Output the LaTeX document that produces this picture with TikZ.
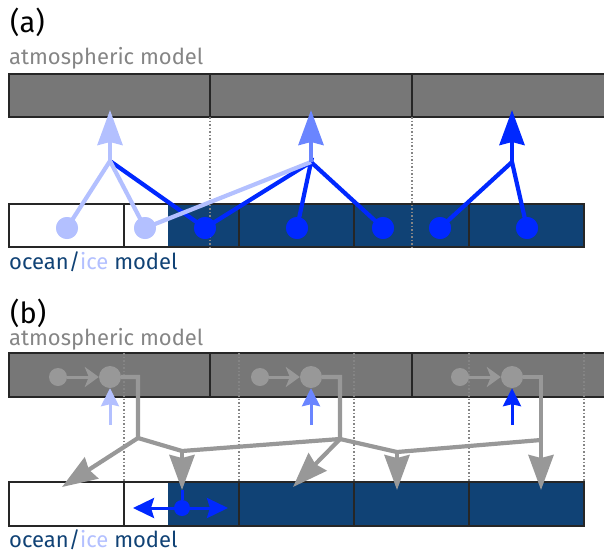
\documentclass[tikz,border=0pt]{standalone}
\usepackage{fontspec}
\setmainfont{Fira Sans}
\usetikzlibrary{arrows.meta}
\definecolor{atmgray}{HTML}{777777}
\definecolor{labelgray}{HTML}{858585}
\definecolor{fluxgray}{HTML}{989898}
\definecolor{oceanblue}{HTML}{104275}
\definecolor{iceblue}{HTML}{B3C0FF}
\definecolor{mixblue}{HTML}{6A85FF}
\definecolor{pureblue}{HTML}{0028FF}

\begin{document}
\begin{tikzpicture}[x=1pt, y=-1pt,
    cellbox/.style={draw=black!85, line width=1.2pt},
    gridline/.style={draw=labelgray, line width=1.5pt, dash pattern=on 1.5pt off 2pt},
    flux/.style={line width=4.2pt},
    fluxdot/.style={circle, inner sep=0pt, minimum size=22pt},
    bigtip/.style={-{Stealth[length=35pt, width=25pt, inset=3pt]}},
    uptip/.style={-{Stealth[length=18pt, width=18pt, inset=2pt]}},
    lbl/.style={anchor=base west, inner sep=0pt, font=\fontsize{22}{26}\selectfont}]
    \useasboundingbox (0,0) rectangle (604,554);

    % (a)
    \node[lbl, font=\fontsize{29}{34}\selectfont] (labA) at (10,32) {(a)};
    \node[lbl, text=labelgray] (atmA) at (9,64) {atmospheric model};
    \node[lbl, text=oceanblue] (ocnA) at (9,269) {ocean/\textcolor{iceblue}{ice} model};

    \fill[atmgray] (9,74) rectangle (610,117);
    \draw[cellbox] (9,74) rectangle (210,117) (210,74) rectangle (412,117) (412,74) rectangle (610,117);
    \fill[oceanblue] (168,204) rectangle (584,247);
    \draw[cellbox] (9,204) rectangle (124,247) (124,204) rectangle (239,247) (239,204) rectangle (354,247)
        (354,204) rectangle (469,247) (469,204) rectangle (584,247);
    \draw[gridline] (210,117) -- (210,247) (412,117) -- (412,247);

    \coordinate (j1) at (110,161);
    \coordinate (j2) at (311,162);
    \coordinate (j3) at (512,162);
    \coordinate (a1) at (110,110);
    \coordinate (a2) at (311,110);
    \coordinate (a3) at (512,110);
    \node[fluxdot, fill=iceblue] (o1) at (67,228) {};
    \node[fluxdot, fill=iceblue] (o2) at (145,228) {};
    \node[fluxdot, fill=pureblue] (o3) at (205,228) {};
    \node[fluxdot, fill=pureblue] (o4) at (297,228) {};
    \node[fluxdot, fill=pureblue] (o5) at (383,228) {};
    \node[fluxdot, fill=pureblue] (o6) at (440,228) {};
    \node[fluxdot, fill=pureblue] (o7) at (527,228) {};

    \draw[flux, pureblue] (o3.center) -- (j1) (o3.center) -- (j2) -- (o4.center) (j2) -- (o5.center)
        (o6.center) -- (j3) -- (o7.center);
    \draw[flux, iceblue] (o1.center) -- (j1) -- (o2.center) -- (j2);
    \draw[flux, iceblue, bigtip] (j1) -- (a1);
    \draw[flux, mixblue, bigtip] (j2) -- (a2);
    \draw[flux, pureblue, bigtip] (j3) -- (a3);
    \node[fluxdot, fill=iceblue] at (o1) {};
    \node[fluxdot, fill=iceblue] at (o2) {};
    \node[fluxdot, fill=pureblue] at (o3) {};
    \node[fluxdot, fill=pureblue] at (o4) {};
    \node[fluxdot, fill=pureblue] at (o5) {};
    \node[fluxdot, fill=pureblue] at (o6) {};
    \node[fluxdot, fill=pureblue] at (o7) {};

    % (b)
    \node[lbl, font=\fontsize{29}{34}\selectfont] (labB) at (10,323) {(b)};
    \node[lbl, text=labelgray] (atmB) at (9,345) {atmospheric model};
    \node[lbl, text=oceanblue] (ocnB) at (9,547) {ocean/\textcolor{iceblue}{ice} model};

    \fill[atmgray] (9,353) rectangle (610,397);
    \draw[cellbox] (9,353) rectangle (210,397) (210,353) rectangle (412,397) (412,353) rectangle (610,397);
    \fill[oceanblue] (168,482) rectangle (584,526);
    \draw[cellbox] (9,482) rectangle (124,526) (124,482) rectangle (239,526) (239,482) rectangle (354,526)
        (354,482) rectangle (469,526) (469,482) rectangle (584,526);
    \draw[gridline] (124,353) -- (124,482) (239,353) -- (239,482) (354,353) -- (354,482)
        (469,353) -- (469,482) (584,353) -- (584,482);

    \node[fluxdot, minimum size=18pt, fill=fluxgray] (s1) at (58,377) {};
    \node[fluxdot, minimum size=18pt, fill=fluxgray] (s2) at (260,377) {};
    \node[fluxdot, minimum size=18pt, fill=fluxgray] (s3) at (460,377) {};
    \coordinate (u1) at (110,425);
    \coordinate (u2) at (311,425);
    \coordinate (u3) at (512,425);
    \node[fluxdot, fill=none] (g1) at (110,377) {};
    \node[fluxdot, fill=none] (g2) at (311,377) {};
    \node[fluxdot, fill=none] (g3) at (512,377) {};
    \draw[line width=3pt, iceblue, uptip] (u1) -- (g1);
    \draw[line width=3pt, mixblue, uptip] (u2) -- (g2);
    \draw[line width=3pt, pureblue, uptip] (u3) -- (g3);
    \node[fluxdot, fill=fluxgray] at (g1) {};
    \node[fluxdot, fill=fluxgray] at (g2) {};
    \node[fluxdot, fill=fluxgray] at (g3) {};
    \draw[line width=3pt, fluxgray, -{Stealth[length=14pt, width=20pt, inset=4pt]}] (s1) -- (g1);
    \draw[line width=3pt, fluxgray, -{Stealth[length=14pt, width=20pt, inset=4pt]}] (s2) -- (g2);
    \draw[line width=3pt, fluxgray, -{Stealth[length=14pt, width=20pt, inset=4pt]}] (s3) -- (g3);

    \coordinate (bend1) at (138,377);
    \coordinate (bend2) at (340,377);
    \coordinate (bend3) at (541,377);
    \coordinate (jA) at (138,438);
    \coordinate (jB) at (182,451);
    \coordinate (jC) at (340,439);
    \coordinate (jD) at (397,452);
    \coordinate (jE) at (541,440);
    \coordinate (tA) at (62,487);
    \coordinate (tB) at (182,490);
    \coordinate (tC) at (293,487);
    \coordinate (tD) at (397,490);
    \coordinate (tE) at (541,490);
    \draw[flux, fluxgray] (g1) -- (bend1) -- (jA) -- (jB) -- (jC);
    \draw[flux, fluxgray] (g2) -- (bend2) -- (jC) -- (jD) -- (jE);
    \draw[flux, fluxgray, bigtip] (g3) -- (bend3) -- (tE);
    \draw[flux, fluxgray, bigtip] (jA) -- (tA);
    \draw[flux, fluxgray, bigtip] (jB) -- (tB);
    \draw[flux, fluxgray, bigtip] (jC) -- (tC);
    \draw[flux, fluxgray, bigtip] (jD) -- (tD);

    \coordinate (wL) at (133,508);
    \coordinate (wR) at (228,508);
    \node[fluxdot, minimum size=16pt, fill=pureblue] (ob) at (182,508) {};
    \draw[line width=3pt, pureblue] (tB) -- (ob);
    \draw[line width=3pt, pureblue, {Stealth[length=21pt, width=20pt, inset=3pt]}-{Stealth[length=21pt, width=20pt, inset=3pt]}] (wL) -- (wR);
\end{tikzpicture}
\end{document}
